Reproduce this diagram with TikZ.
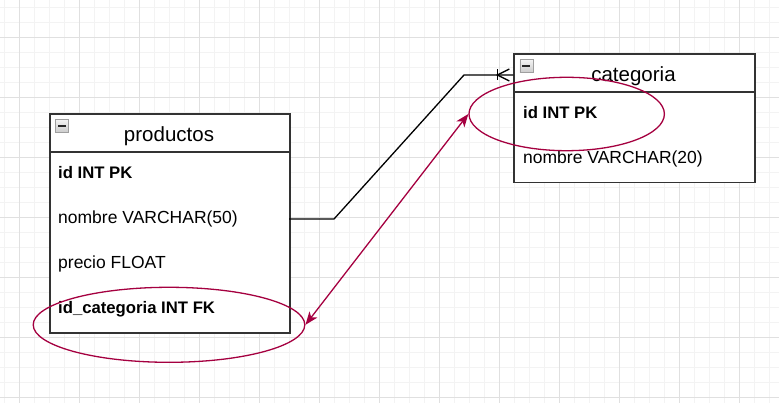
\documentclass[tikz,border=0pt]{standalone}
\usepackage{fontspec}
\setmainfont{Liberation Sans}
\usetikzlibrary{arrows.meta,shapes.geometric}
\definecolor{erred}{HTML}{A50040}
\definecolor{gridmin}{HTML}{F3F3F3}
\definecolor{gridmaj}{HTML}{E0E0E0}
\definecolor{tborder}{HTML}{333333}
\begin{document}
\begin{tikzpicture}[x=1pt,y=-1pt,
  tablebox/.style={draw=tborder, line width=1.5pt, fill=white, rectangle, inner sep=0pt, anchor=north west},
  headline/.style={draw=tborder, line width=1.5pt},
  rowtext/.style={anchor=base west, inner sep=0pt, font=\fontsize{17.5}{20}\selectfont},
  keytext/.style={anchor=base west, inner sep=0pt, font=\fontsize{16.7}{20}\selectfont\bfseries},
  titletext/.style={anchor=base, inner sep=0pt, font=\fontsize{20.5}{24}\selectfont},
  minusicon/.style={rectangle, draw=gray!75, line width=0.6pt, top color=gray!8, bottom color=gray!40, minimum size=13pt, inner sep=0pt,
    path picture={\fill[black!85] ([xshift=-4pt,yshift=-0.9pt]path picture bounding box.center) rectangle ([xshift=4pt,yshift=0.9pt]path picture bounding box.center);}},
  hilite/.style={ellipse, draw=erred, line width=1.3pt, inner sep=0pt},
  fkarrow/.style={draw=erred, line width=1.3pt, {Stealth[length=13pt,width=10pt,inset=3.5pt]}-{Stealth[length=13pt,width=10pt,inset=3.5pt]}},
  relline/.style={draw=black, line width=1.3pt}
]
\useasboundingbox (0,0) rectangle (779,403);
% grid
\foreach \x in {4.3,19.3,...,779} \draw[gridmin, line width=0.8pt] (\x,0) -- (\x,403);
\foreach \y in {7.3,22.3,...,403} \draw[gridmin, line width=0.8pt] (0,\y) -- (779,\y);
\foreach \x in {19.3,79.3,...,779} \draw[gridmaj, line width=0.9pt] (\x,0) -- (\x,403);
\foreach \y in {37.3,97.3,...,403} \draw[gridmaj, line width=0.9pt] (0,\y) -- (779,\y);

% productos table
\node[tablebox, minimum width=240pt, minimum height=218.7pt] (prod) at (49,113.3) {};
\draw[headline] ([yshift=-38.7pt]prod.north west) -- ([yshift=-38.7pt]prod.north east);
\node[minusicon] (pminus) at (62,125.7) {};
\node[titletext] (ptitle) at (169,142) {productos};
\node[keytext] (pid) at (58,179) {id INT PK};
\node[rowtext] (pnom) at (58,224) {nombre VARCHAR(50)};
\node[rowtext] (pprec) at (58,269) {precio FLOAT};
\node[keytext] (pcat) at (58,314) {id\_categoria INT FK};

% categoria table
\node[tablebox, minimum width=240.7pt, minimum height=128.4pt] (cat) at (513.3,53.3) {};
\draw[headline] ([yshift=-38.7pt]cat.north west) -- ([yshift=-38.7pt]cat.north east);
\node[minusicon] (cminus) at (526.3,65.7) {};
\node[titletext] (ctitle) at (633.5,82) {categoria};
\node[keytext] (cid) at (523,119) {id INT PK};
\node[rowtext] (cnom) at (523,164) {nombre VARCHAR(20)};

% relation connector
\coordinate (prodR) at (289,219);
\coordinate (bend1) at (334,219);
\coordinate (bend2) at (464,75);
\coordinate (catL) at (513.3,75);
\draw[relline] (prodR) -- (bend1) -- (bend2) -- (catL);
% one-or-many end
\draw[relline] ([xshift=-16pt]catL) ++(0,-5.5) -- ++(0,11);
\draw[relline] ([xshift=-4pt,yshift=6pt]catL) -- ([xshift=-16pt]catL) -- ([xshift=-4pt,yshift=-6pt]catL);

% highlights
\node[hilite, minimum width=195.4pt, minimum height=73.4pt] (ell1) at (566.7,114) {};
\node[hilite, minimum width=271.6pt, minimum height=75pt] (ell2) at (169,324.8) {};
\draw[fkarrow] (ell2.east) -- (ell1.west);
\end{tikzpicture}
\end{document}
